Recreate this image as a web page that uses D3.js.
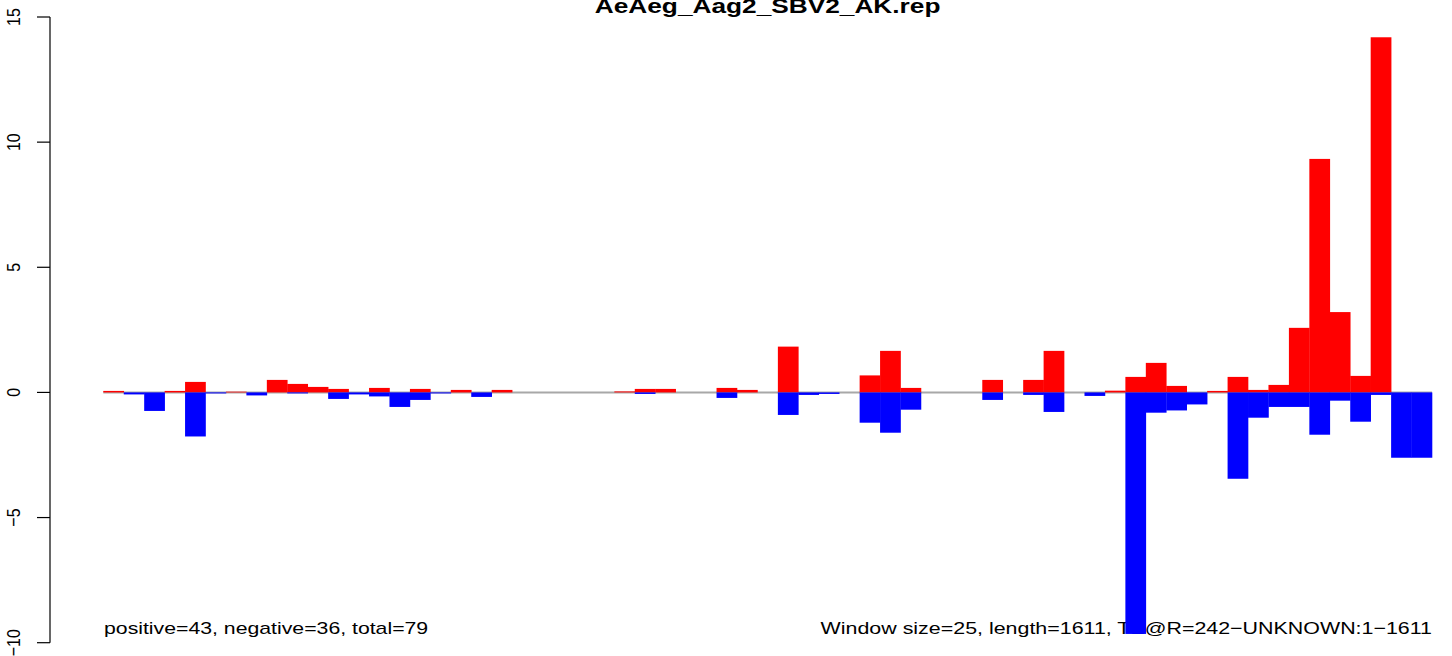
<!DOCTYPE html>
<html>
<head>
<meta charset="utf-8">
<script src="https://cdn.jsdelivr.net/npm/d3@7/dist/d3.min.js"></script>
<style>
  html, body { margin: 0; padding: 0; background: #fff; }
  svg { display: block; }
  text { font-family: "Liberation Sans", Arial, Helvetica, sans-serif; fill: #000; }
</style>
</head>
<body>
<svg id="chart" width="1452" height="656"></svg>
<script>
// ---- data ----
const title = "AeAeg_Aag2_SBV2_AK.rep";
const windows = d3.range(65);
const positiveValues = [
  0.06, 0, 0, 0.06, 0.42, 0, 0.03, 0, 0.5, 0.34,
  0.22, 0.14, 0, 0.18, 0, 0.14, 0, 0.1, 0, 0.1,
  0, 0, 0, 0, 0, 0.04, 0.14, 0.14, 0, 0,
  0.18, 0.1, 0, 1.83, 0, 0, 0, 0.68, 1.66, 0.18,
  0, 0, 0, 0.5, 0, 0.5, 1.66, 0, 0, 0.07,
  0.62, 1.18, 0.26, 0, 0.06, 0.62, 0.1, 0.3, 2.58, 9.33,
  3.21, 0.66, 14.19, 0, 0
];
const negativeValues = [
  0, -0.08, -0.74, 0, -1.76, -0.04, 0, -0.12, 0, -0.04,
  0, -0.26, -0.08, -0.16, -0.58, -0.3, -0.04, 0, -0.18, 0,
  0, 0, 0, 0, 0, 0, -0.06, 0, 0, 0,
  -0.22, 0, 0, -0.9, -0.1, -0.06, 0, -1.21, -1.61, -0.69,
  0, 0, 0, -0.3, 0, -0.1, -0.78, 0, -0.14, 0,
  -9.65, -0.81, -0.72, -0.48, 0, -3.45, -1.01, -0.58, -0.58, -1.69,
  -0.33, -1.17, -0.1, -2.61, -2.61
];
const yTicks = [-10, -5, 0, 5, 10, 15];
const leftNote = "positive=43, negative=36, total=79";
const rightNote = "Window size=25, length=1611, TE@R=242\u2212UNKNOWN:1\u22121611";

// ---- scales ----
const svg = d3.select("#chart");
const x = d3.scaleBand().domain(windows).range([103.3, 1432]).padding(0);
const y = d3.scaleLinear().domain([-10, 15]).range([642.7, 17]);
const sx = 1.25; // horizontal stretch of the original raster text

const fmt = v => (v < 0 ? "\u2212" + Math.abs(v) : String(v));

// title
svg.append("g")
  .attr("transform", `translate(767.6,12.5) scale(${sx},1)`)
  .append("text")
  .attr("text-anchor", "middle")
  .attr("font-weight", "bold")
  .attr("font-size", 21)
  .text(title);

// y axis
const axis = svg.append("g");
axis.append("line")
  .attr("x1", 50).attr("x2", 50)
  .attr("y1", y(15)).attr("y2", y(-10))
  .attr("stroke", "#000").attr("stroke-width", 1.2);
axis.selectAll("line.tick").data(yTicks).enter().append("line")
  .attr("class", "tick")
  .attr("x1", 37).attr("x2", 50)
  .attr("y1", d => y(d)).attr("y2", d => y(d))
  .attr("stroke", "#000").attr("stroke-width", 1.2);
axis.selectAll("g.lab").data(yTicks).enter().append("g")
  .attr("class", "lab")
  .attr("transform", d => `translate(20,${y(d)}) scale(1.2,1) rotate(-90)`)
  .append("text")
  .attr("text-anchor", "middle")
  .attr("font-size", 16)
  .text(d => fmt(d));

// notes (drawn before bars, bars overlap them)
svg.append("g")
  .attr("transform", `translate(104,634) scale(${sx},1)`)
  .append("text")
  .attr("font-size", 17)
  .text(leftNote);
svg.append("g")
  .attr("transform", `translate(1432,634) scale(1.26,1)`)
  .append("text")
  .attr("text-anchor", "end")
  .attr("font-size", 17)
  .text(rightNote);

// zero line
svg.append("line")
  .attr("x1", x(0)).attr("x2", x(64) + x.bandwidth())
  .attr("y1", y(0)).attr("y2", y(0))
  .attr("stroke", "#a8a8a8").attr("stroke-width", 2);

// bars
svg.append("g").selectAll("rect").data(windows.filter(i => positiveValues[i] > 0)).enter().append("rect")
  .attr("x", i => x(i))
  .attr("width", x.bandwidth() + 0.3)
  .attr("y", i => y(positiveValues[i]))
  .attr("height", i => y(0) - y(positiveValues[i]))
  .attr("fill", "#ff0000");
svg.append("g").selectAll("rect").data(windows.filter(i => negativeValues[i] < 0)).enter().append("rect")
  .attr("x", i => x(i))
  .attr("width", x.bandwidth() + 0.3)
  .attr("y", y(0))
  .attr("height", i => y(negativeValues[i]) - y(0))
  .attr("fill", "#0000ff");
</script>
</body>
</html>
